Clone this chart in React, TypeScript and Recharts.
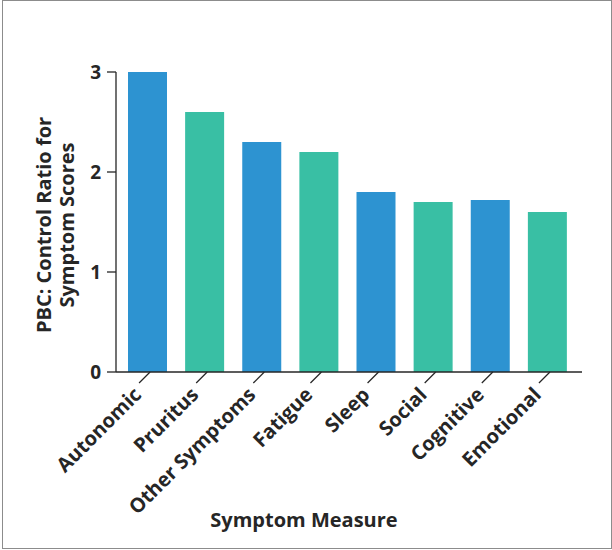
import { BarChart, Bar, XAxis, YAxis, Cell, Label } from 'recharts'

const symptoms = ['Autonomic', 'Pruritus', 'Other Symptoms', 'Fatigue', 'Sleep', 'Social', 'Cognitive', 'Emotional']
const ratios = [3.0, 2.6, 2.3, 2.2, 1.8, 1.7, 1.72, 1.6]
const yTicks = [0, 1, 2, 3]

const data = symptoms.map((name, i) => ({ name, ratio: ratios[i] }))

const BLUE = '#2d93d1'
const GREEN = '#39bfa4'
const INK = '#262626'
const FONT = '"Open Sans", sans-serif'

function SymptomTick({ x, y, payload }: any) {
  return (
    <g>
      <line x1={x + 2.5} y1={y} x2={x - 8.5} y2={y + 11} stroke={INK} strokeWidth={1.2} />
      <text
        x={x - 5}
        y={y + 24}
        transform={`rotate(-45 ${x - 5} ${y + 24})`}
        textAnchor="end"
        fontFamily={FONT}
        fontWeight={700}
        fontSize={20}
        fill={INK}
      >
        {payload.value}
      </text>
    </g>
  )
}

export default function App() {
  return (
    <div style={{ position: 'absolute', left: 0, top: 0, width: 612, height: 550, background: '#fff' }}>
      <div style={{ position: 'absolute', left: 2, top: 0, width: 608, height: 547, border: '1px solid #8c8c8c' }} />
      <BarChart width={612} height={550} data={data} margin={{ top: 72, right: 30, bottom: 0, left: 0 }} barSize={39}>
        <XAxis
          dataKey="name"
          height={178}
          padding={{ left: 3, right: 6 }}
          tickSize={0}
          tickMargin={0}
          tickLine={false}
          axisLine={{ stroke: INK, strokeWidth: 1.3 }}
          interval={0}
          tick={<SymptomTick />}
        >
          <Label
            content={() => (
              <text x={304} y={527} textAnchor="middle" fontFamily={FONT} fontWeight={700} fontSize={20} fill={INK}>
                Symptom Measure
              </text>
            )}
          />
        </XAxis>
        <YAxis
          width={116}
          domain={[0, 3]}
          ticks={yTicks}
          tickSize={9}
          tickMargin={6}
          tickLine={{ stroke: INK, strokeWidth: 1.3 }}
          axisLine={{ stroke: INK, strokeWidth: 1.3 }}
          tick={{ fontFamily: FONT, fontWeight: 700, fontSize: 19, fill: INK }}
        >
          <Label
            content={() => (
              <g fontFamily={FONT} fontWeight={700} fontSize={20} fill={INK} textAnchor="middle">
                <text x={43} y={225} transform="rotate(-90 43 225)" dominantBaseline="central">
                  PBC: Control Ratio for
                </text>
                <text x={66} y={225} transform="rotate(-90 66 225)" dominantBaseline="central">
                  Symptom Scores
                </text>
              </g>
            )}
          />
        </YAxis>
        <Bar dataKey="ratio" isAnimationActive={false}>
          {data.map((d, i) => (
            <Cell key={d.name} fill={i % 2 === 0 ? BLUE : GREEN} />
          ))}
        </Bar>
      </BarChart>
    </div>
  )
}
